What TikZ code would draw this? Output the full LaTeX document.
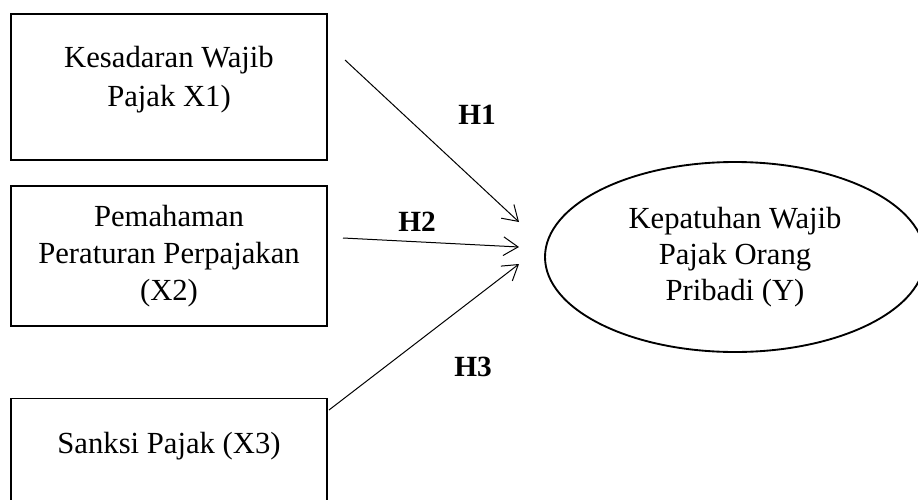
\documentclass[tikz,border=0pt]{standalone}
\usepackage{fontspec}
\setmainfont{Liberation Serif}
\usetikzlibrary{arrows.meta,shapes.geometric}
\tikzset{
  varbox/.style={draw, line width=1.4pt, minimum width=237pt, align=center, inner sep=0pt,
    font=\fontsize{23}{28}\selectfont},
  ybox/.style={draw, ellipse, line width=1.4pt, minimum width=285pt, minimum height=142.5pt,
    align=center, inner sep=0pt, font=\fontsize{23}{27}\selectfont},
  hyp/.style={font=\fontsize{22}{26}\selectfont\bfseries},
  link/.style={line width=0.75pt, -{Straight Barb[length=11pt,width=14pt,line width=0.75pt]}}
}
\begin{document}
\begin{tikzpicture}[x=0.75pt,y=-0.75pt]
\useasboundingbox (0,0) rectangle (918,500);
\clip (0,0) rectangle (918,500);
\node[varbox, minimum height=109.5pt, font=\fontsize{23}{29}\selectfont] (x1) at (169,87) {Kesadaran Wajib\\Pajak X1)\rule[-16pt]{0pt}{1pt}};
\node[varbox, minimum height=105pt] (x2) at (169,256) {Pemahaman\\Peraturan Perpajakan\\(X2)};
\node[varbox, anchor=north, text height=41pt, text depth=80pt] (x3) at (169,397.5) {Sanksi Pajak (X3)};
\node[ybox] (y) at (735,257) {Kepatuhan Wajib\\Pajak Orang\\Pribadi (Y)};
\coordinate (s1) at (345,60);
\coordinate (e1) at (519,222);
\coordinate (s2) at (343,238);
\coordinate (e2) at (519,247);
\coordinate (s3) at (329,410);
\coordinate (e3) at (519,264);
\draw[link] (s1) -- (e1);
\draw[link] (s2) -- (e2);
\draw[link] (s3) -- (e3);
\node[hyp] (h1) at (477,115) {H1};
\node[hyp] (h2) at (417,222) {H2};
\node[hyp] (h3) at (473,367) {H3};
\end{tikzpicture}
\end{document}
